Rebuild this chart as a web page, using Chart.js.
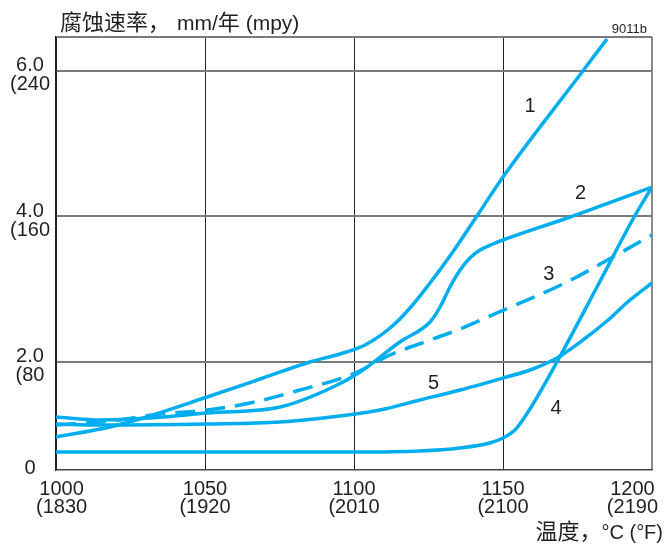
<!DOCTYPE html>
<html><head><meta charset="utf-8">
<script src="https://cdn.jsdelivr.net/npm/chart.js@4/dist/chart.umd.min.js"></script>
<style>html,body{margin:0;padding:0;background:#fff;}canvas{display:block;}</style>
</head><body>
<canvas id="c" width="666" height="544"></canvas>
<script>
// ---- tick labels ----
const tempTicks = [1000, 1050, 1100, 1150, 1200];
const tempTickLabels = [['1000','(1830'], ['1050','(1920'], ['1100','(2010'], ['1150','(2100'], ['1200','(2190']];
const rateTicks = [2, 4, 6];
const rateTickLabels = [['2.0','(80'], ['4.0','(160'], ['6.0','(240']];
const rateZeroLabel = '0';

// ---- series (temperature °C, corrosion rate mm/yr) ----
const curve1Temp = [1000, 1018.1, 1029.2, 1050.7, 1068.5, 1085.2, 1095.3, 1103.7, 1112.1, 1118.8, 1125.5, 1132.2, 1140.6, 1150, 1176.8, 1184.9];
const curve1Rate = [0.969, 1.107, 1.230, 1.519, 1.766, 2.0, 2.110, 2.234, 2.467, 2.742, 3.086, 3.457, 3.966, 4.543, 6.0, 6.440];

const curve2Temp = [1000, 1014.8, 1031.5, 1050.7, 1075.2, 1093.0, 1102.0, 1115.4, 1125.5, 1128.9, 1132.2, 1135.6, 1138.9, 1142.3, 1146.6, 1150, 1172.5, 1200];
const curve2Rate = [1.244, 1.203, 1.230, 1.299, 1.381, 1.656, 1.863, 2.275, 2.550, 2.756, 3.031, 3.265, 3.430, 3.540, 3.622, 3.677, 3.993, 4.405];

const curve3Temp = [1000, 1018.1, 1034.9, 1050.7, 1065.1, 1081.9, 1099.7, 1112.1, 1125.5, 1135.6, 1148.0, 1171.5, 1186.9, 1200];
const curve3Rate = [1.134, 1.189, 1.285, 1.340, 1.436, 1.615, 1.835, 2.096, 2.302, 2.454, 2.674, 3.100, 3.443, 3.746];

const curve4Temp = [1000, 1050.7, 1100.3, 1122.1, 1135.6, 1145.6, 1150, 1154.0, 1158.4, 1168.1, 1182.6, 1194.0, 1200];
const curve4Rate = [0.763, 0.763, 0.763, 0.777, 0.818, 0.887, 0.955, 1.065, 1.313, 2.0, 3.113, 3.993, 4.405];

const curve5Temp = [1000, 1014.8, 1050.7, 1075.2, 1100.3, 1108.7, 1122.1, 1135.6, 1150, 1159.1, 1168.1, 1176.8, 1184.9, 1192.6, 1200];
const curve5Rate = [1.148, 1.134, 1.148, 1.175, 1.285, 1.340, 1.478, 1.615, 1.780, 1.890, 2.055, 2.302, 2.564, 2.852, 3.086];

const curveNames = ['1', '2', '3', '4', '5'];

// ---- style / layout ----
const LINE_COLOR = '#00AEEF';
const TEXT_COLOR = '#231f20';
const NUM_FONT = '"Liberation Sans", Arial, sans-serif';
const CJK_FONT = '"Noto Sans CJK SC", sans-serif';
const Y_MIN = 0.5155, Y_MAX = 6.467;
const ZERO_TICK = Y_MIN + 0.08;
const curveLabelPos = [
  {x: 1159.1, y: 5.533}, {x: 1176.0, y: 4.33}, {x: 1165.4, y: 3.223},
  {x: 1167.8, y: 1.381}, {x: 1126.7, y: 1.725}
];

const pts = (t, r) => t.map((v, i) => ({x: v, y: r[i]}));
function ds(t, r, dash) {
  return {
    data: pts(t, r), borderColor: LINE_COLOR, borderWidth: 3.5, pointRadius: 0,
    fill: false, cubicInterpolationMode: 'monotone', borderDash: dash || [],
    borderCapStyle: 'butt', borderJoinStyle: 'round'
  };
}

function drawRuns(ctx, runs, x, y, align) {
  if (align === 'right') {
    let total = 0;
    runs.forEach(r => { ctx.font = r.font; total += ctx.measureText(r.t).width + (r.gap || 0); });
    x -= total;
  }
  ctx.textAlign = 'left';
  runs.forEach(r => {
    ctx.font = r.font;
    x += (r.gap || 0);
    ctx.fillText(r.t, x, y);
    x += ctx.measureText(r.t).width;
  });
}

const textPlugin = {
  id: 'texts',
  afterDraw(chart) {
    const {ctx, scales: {x, y}} = chart;
    ctx.save();
    ctx.fillStyle = TEXT_COLOR;
    ctx.textBaseline = 'alphabetic';
    // x tick labels (kept inside the canvas like the reference)
    ctx.font = '20px ' + NUM_FONT;
    ctx.textAlign = 'center';
    tempTicks.forEach((v, i) => {
      const lines = tempTickLabels[i];
      const w = Math.max(...lines.map(s => ctx.measureText(s).width));
      let cx = x.getPixelForValue(v);
      cx = Math.min(Math.max(cx, 36 + w / 2), 658 - w / 2);
      lines.forEach((s, j) => ctx.fillText(s, cx, 495 + j * 18));
    });
    // curve numbers
    ctx.font = '20px ' + NUM_FONT;
    curveNames.forEach((n, i) => {
      const p = curveLabelPos[i];
      ctx.fillText(n, x.getPixelForValue(p.x), y.getPixelForValue(p.y) + 7);
    });
    // figure code
    ctx.font = '13px ' + NUM_FONT;
    ctx.textAlign = 'right';
    ctx.fillText('9011b', 647, 33);
    // y title
    drawRuns(ctx, [
      {t: '腐蚀速率，', font: '22px ' + CJK_FONT},
      {t: 'mm/', font: '21px ' + NUM_FONT, gap: 7},
      {t: '年', font: '22px ' + CJK_FONT},
      {t: ' (mpy)', font: '21px ' + NUM_FONT}
    ], 60, 30, 'left');
    // x title
    drawRuns(ctx, [
      {t: '温度，', font: '22px ' + CJK_FONT},
      {t: '°C (°F)', font: '20px ' + NUM_FONT}
    ], 663, 539, 'right');
    ctx.restore();
  }
};

new Chart(document.getElementById('c'), {
  type: 'line',
  data: {
    datasets: [
      ds(curve1Temp, curve1Rate),
      ds(curve2Temp, curve2Rate),
      ds(curve3Temp, curve3Rate, [20, 10]),
      ds(curve4Temp, curve4Rate),
      ds(curve5Temp, curve5Rate)
    ]
  },
  options: {
    responsive: false, animation: false, devicePixelRatioOverride: 1,
    layout: {padding: {top: 37, right: 14, left: 0, bottom: 0}},
    plugins: {legend: {display: false}, tooltip: {enabled: false}, title: {display: false}},
    scales: {
      x: {
        type: 'linear', min: 1000, max: 1200,
        afterBuildTicks: s => { s.ticks = tempTicks.map(v => ({value: v})); },
        afterFit: s => { s.height = 74; s.paddingLeft = 0; s.paddingRight = 0; },
        ticks: {display: false},
        grid: {
          drawTicks: false,
          color: c => c.index === tempTicks.length - 1 ? '#8a8a8a' : '#222',
          lineWidth: c => c.index === tempTicks.length - 1 ? 2 : 1
        },
        border: {display: true, color: '#444', width: 1.5}
      },
      y: {
        type: 'linear', min: Y_MIN, max: Y_MAX,
        afterBuildTicks: s => {
          s.ticks = [{value: ZERO_TICK}].concat(rateTicks.map(v => ({value: v})), [{value: Y_MAX}]);
        },
        afterFit: s => { s.width = 56; s.paddingTop = 0; s.paddingBottom = 0; },
        ticks: {
          crossAlign: 'center', padding: 6, labelOffset: 4, color: TEXT_COLOR,
          font: {family: NUM_FONT, size: 20, lineHeight: 0.95},
          callback: (v, i, ticks) => i === 0 ? rateZeroLabel : (i === ticks.length - 1 ? '' : rateTickLabels[i - 1])
        },
        grid: {
          drawTicks: false,
          color: c => c.index === 0 ? 'rgba(0,0,0,0)' : '#7a7a7a',
          lineWidth: 2
        },
        border: {display: true, color: '#222', width: 1.5}
      }
    }
  },
  plugins: [textPlugin]
});
</script>
</body></html>
